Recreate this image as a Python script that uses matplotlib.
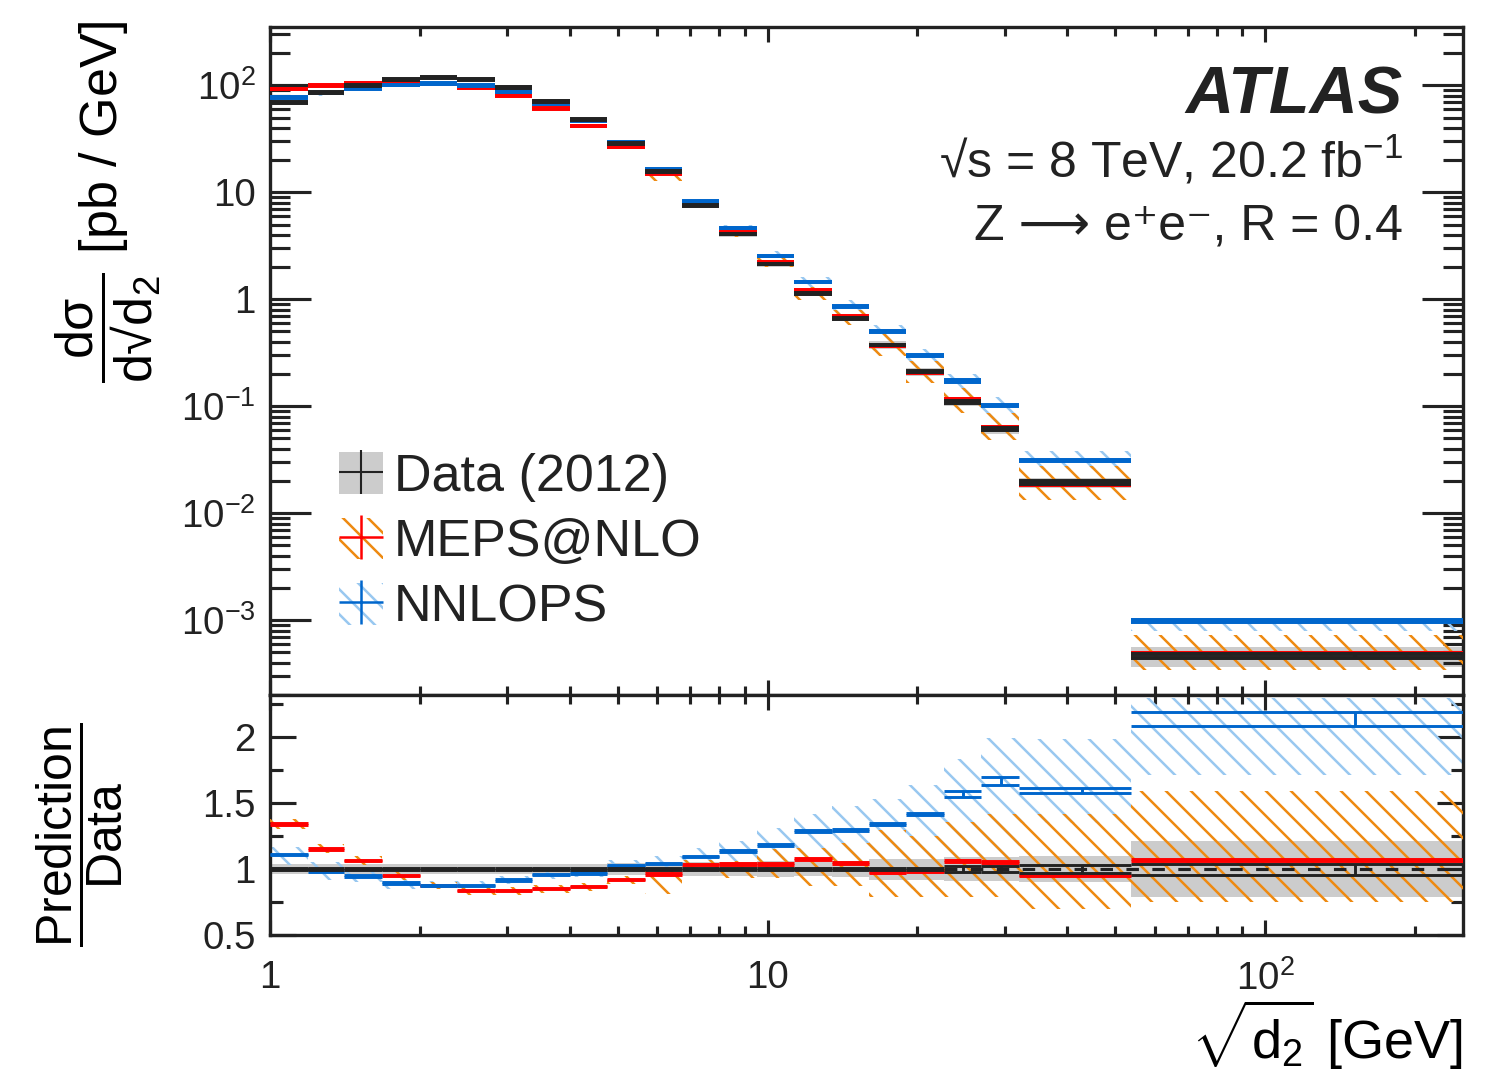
import numpy as np
import matplotlib
matplotlib.use('Agg')
import matplotlib.pyplot as plt
from matplotlib.patches import Patch
from matplotlib.lines import Line2D
from matplotlib.ticker import FixedLocator, LogLocator, MultipleLocator, FuncFormatter, NullFormatter

plt.rcParams['font.family'] = ['Liberation Sans', 'DejaVu Sans']
plt.rcParams['mathtext.fontset'] = 'custom'
plt.rcParams['mathtext.rm'] = 'Liberation Sans'
plt.rcParams['mathtext.it'] = 'Liberation Sans:italic'
plt.rcParams['mathtext.bf'] = 'Liberation Sans:bold'
plt.rcParams['hatch.linewidth'] = 1.2
plt.rcParams['text.color'] = '#222222'

# bin edges in sqrt(d2) [GeV]
edges = np.array([1.0, 1.19, 1.41, 1.68, 2.0, 2.38, 2.83, 3.36, 4.0, 4.76, 5.66,
                  6.73, 8.0, 9.51, 11.3, 13.5, 16.0, 19.0, 22.6, 26.9, 32.0, 53.8, 250.0])

# measured cross section [pb/GeV]
data_xsec = np.array([69, 86, 99, 113, 118, 114, 96, 71, 48, 28.7, 15.6, 7.5, 4.07,
                      2.14, 1.13, 0.664, 0.374, 0.210, 0.110, 0.061, 0.0193, 4.6e-4])
data_stat = np.array([0.008] * 18 + [0.02, 0.02, 0.03, 0.042])
data_syst = np.array([0.04] * 9 + [0.045, 0.045, 0.05, 0.055, 0.058, 0.05, 0.06,
                                   0.08, 0.08, 0.09, 0.09, 0.1, 0.21])

# MEPS@NLO / data
meps_ratio = np.array([1.342, 1.155, 1.065, 0.95, 0.875, 0.835, 0.837, 0.852, 0.867, 0.92, 0.962,
                       1.035, 1.04, 1.04, 1.075, 1.045, 0.975, 0.98, 1.062, 1.053, 0.952, 1.07])
meps_lo = np.array([1.30, 1.12, 1.03, 0.92, 0.845, 0.805, 0.805, 0.82, 0.835, 0.89, 0.81,
                    1.0, 0.93, 0.93, 0.87, 0.87, 0.785, 0.785, 0.785, 0.785, 0.695, 0.75])
meps_hi = np.array([1.38, 1.19, 1.10, 0.98, 0.905, 0.865, 0.865, 0.88, 0.895, 0.95, 0.995,
                    1.065, 1.06, 1.15, 1.157, 1.2, 1.295, 1.25, 1.357, 1.42, 1.42, 1.595])
meps_stat = np.array([0.006] * 22)

# NNLOPS / data
nnlops_ratio = np.array([1.11, 0.985, 0.947, 0.895, 0.877, 0.877, 0.917, 0.957, 0.972, 1.027, 1.042,
                         1.095, 1.137, 1.182, 1.287, 1.295, 1.342, 1.42, 1.57, 1.665, 1.597, 2.137])
nnlops_lo = np.array([1.03, 0.92, 0.90, 0.85, 0.845, 0.845, 0.885, 0.925, 0.94, 0.99, 1.0,
                      1.04, 1.06, 1.02, 0.995, 0.945, 0.88, 0.845, 0.87, 0.87, 1.35, 1.71])
nnlops_hi = np.array([1.17, 1.05, 1.0, 0.93, 0.91, 0.91, 0.95, 0.99, 1.005, 1.065, 1.1,
                      1.16, 1.21, 1.31, 1.42, 1.48, 1.535, 1.635, 1.835, 1.99, 1.985, 2.30])
nnlops_stat = np.array([0.006] * 18 + [0.016, 0.018, 0.012, 0.025])

INK = '#222222'
GREY = '#cccccc'
RED = '#ff0000'
ORANGE = '#ee8a11'
BLUE = '#0066cc'
LBLUE = '#99c8f0'
HATCH = '\\\\'   # two backslashes -> ~12 lines per inch

mids = 0.5 * (edges[:-1] + edges[1:])


def band(ax, lo, hi, **kw):
    ax.bar(edges[:-1], hi - lo, bottom=lo, width=np.diff(edges), align='edge', **kw)


def boxes(ax, lo, hi, color, lw, z):
    # ROOT-like markers: line at value -/+ stat error and a vertical bar at bin centre
    ax.hlines(lo, edges[:-1], edges[1:], colors=color, lw=lw, zorder=z)
    ax.hlines(hi, edges[:-1], edges[1:], colors=color, lw=lw, zorder=z)
    ax.vlines(mids, lo, hi, colors=color, lw=lw, zorder=z)


fig = plt.figure(figsize=(9.94, 7.1467), dpi=150)
ax1 = fig.add_axes([0.1811, 0.3517, 0.8001, 0.6231])
ax2 = fig.add_axes([0.1811, 0.1278, 0.8001, 0.2239])

# ---- main panel
meps = data_xsec * meps_ratio
nnlops = data_xsec * nnlops_ratio
band(ax1, data_xsec * (1 - data_syst), data_xsec * (1 + data_syst), color=GREY, lw=0, zorder=1)
band(ax1, data_xsec * nnlops_lo, data_xsec * nnlops_hi, facecolor='none', edgecolor=LBLUE,
     hatch=HATCH, lw=0, zorder=2)
band(ax1, data_xsec * meps_lo, data_xsec * meps_hi, facecolor='none', edgecolor=ORANGE,
     hatch=HATCH, lw=0, zorder=3)
boxes(ax1, meps * (1 - meps_stat), meps * (1 + meps_stat), RED, 1.9, 4)
boxes(ax1, nnlops * (1 - nnlops_stat), nnlops * (1 + nnlops_stat), BLUE, 1.9, 5)
boxes(ax1, data_xsec * (1 - data_stat), data_xsec * (1 + data_stat), INK, 1.9, 6)

ax1.set_xscale('log')
ax1.set_yscale('log')
ax1.set_xlim(1, 250)
ax1.set_ylim(2.0e-4, 351)

ylab = {1e-3: r'$10^{-3}$', 1e-2: r'$10^{-2}$', 1e-1: r'$10^{-1}$', 1: '1', 10: '10', 100: r'$10^{2}$'}
ax1.yaxis.set_major_locator(FixedLocator(list(ylab.keys())))
ax1.yaxis.set_major_formatter(FuncFormatter(lambda v, p: ylab.get(round(v, 6), '')))
ax1.yaxis.set_minor_locator(LogLocator(base=10, subs=np.arange(2, 10), numticks=50))
ax1.yaxis.set_minor_formatter(NullFormatter())

xlab = {1: '1', 10: '10', 100: r'$10^{2}$'}
for ax in (ax1, ax2):
    ax.xaxis.set_major_locator(FixedLocator([1, 10, 100]))
    ax.xaxis.set_minor_locator(LogLocator(base=10, subs=np.arange(2, 10), numticks=50))
    ax.xaxis.set_minor_formatter(NullFormatter())
    for s in ax.spines.values():
        s.set_linewidth(1.6)
        s.set_color(INK)
    ax.tick_params(which='both', direction='in', top=True, right=True, width=1.5,
                   color=INK, labelcolor=INK, labelsize=18.5)
    ax.tick_params(axis='x', which='major', length=7, pad=12)
    ax.tick_params(axis='x', which='minor', length=4.5)

ax1.tick_params(axis='y', which='major', length=19.5, pad=7)
ax1.tick_params(axis='y', which='minor', length=9.5)
ax1.tick_params(labelbottom=False)

ax1.set_ylabel(r'$\dfrac{\mathrm{dσ}}{\mathrm{d√d}_2}$ [pb / GeV]', fontsize=25, loc='top')
ax1.yaxis.set_label_coords(-0.09, 1.01)

ax1.text(0.9497, 0.871, 'ATLAS', transform=ax1.transAxes, ha='right', va='baseline',
         fontsize=32, fontweight='bold', fontstyle='italic')
ax1.text(0.9497, 0.774, r'√s = 8 TeV, 20.2 fb$^{-1}$', transform=ax1.transAxes,
         ha='right', va='baseline', fontsize=24)
# plain text (no mathtext) so that the font fallback list is used for the arrow
ax1.text(0.9497, 0.680, 'Z \u27f6 e\u207ae\u207b, R = 0.4', transform=ax1.transAxes,
         ha='right', va='baseline', fontsize=24)

handles = [
    (Patch(facecolor=GREY, edgecolor='none'),
     Line2D([], [], ls='none', marker='+', ms=21, mew=1.0, color=INK)),
    (Patch(facecolor='none', edgecolor=ORANGE, hatch=HATCH, lw=0),
     Line2D([], [], ls='none', marker='+', ms=21, mew=1.2, color=RED)),
    (Patch(facecolor='none', edgecolor=LBLUE, hatch=HATCH, lw=0),
     Line2D([], [], ls='none', marker='+', ms=21, mew=1.2, color=BLUE)),
]
labels = ['Data (2012)', 'MEPS@NLO', 'NNLOPS']
ax1.legend(handles, labels, loc='upper left', bbox_to_anchor=(0.058, 0.3635), frameon=False,
           fontsize=25, handlelength=0.85, handleheight=0.85, handletextpad=0.2,
           labelspacing=0.30, borderpad=0, borderaxespad=0)

# ---- ratio panel
band(ax2, 1 - data_syst, 1 + data_syst, color=GREY, lw=0, zorder=1)
band(ax2, nnlops_lo, nnlops_hi, facecolor='none', edgecolor=LBLUE, hatch=HATCH, lw=0, zorder=2)
band(ax2, meps_lo, meps_hi, facecolor='none', edgecolor=ORANGE, hatch=HATCH, lw=0, zorder=3)
boxes(ax2, meps_ratio * (1 - meps_stat), meps_ratio * (1 + meps_stat), RED, 1.4, 4)
boxes(ax2, nnlops_ratio * (1 - nnlops_stat), nnlops_ratio * (1 + nnlops_stat), BLUE, 1.4, 5)
boxes(ax2, 1 - data_stat, 1 + data_stat, INK, 1.4, 6)
ax2.axhline(1, color=INK, lw=1.5, ls=(0, (4.0, 4.3)), zorder=6)

ax2.set_xscale('log')
ax2.set_xlim(1, 250)
ax2.set_ylim(0.5, 2.32)
ax2.xaxis.set_major_formatter(FuncFormatter(lambda v, p: xlab.get(int(round(v)), '')))
ax2.yaxis.set_major_locator(MultipleLocator(0.5))
ax2.yaxis.set_minor_locator(MultipleLocator(0.25))
ax2.yaxis.set_major_formatter(FuncFormatter(lambda v, p: '{:g}'.format(v)))
ax2.tick_params(axis='y', which='major', length=12.5, pad=7)
ax2.tick_params(axis='y', which='minor', length=6)

ax2.set_ylabel(r'$\dfrac{\mathrm{Prediction}}{\mathrm{Data}}$', fontsize=24)
ax2.yaxis.set_label_coords(-0.1215, 0.417)
ax2.set_xlabel(r'$\sqrt{\mathrm{d}_2}$ [GeV]', fontsize=26, loc='right')
ax2.xaxis.set_label_coords(1.0, -0.26)

fig.savefig('out.png', dpi=150)
